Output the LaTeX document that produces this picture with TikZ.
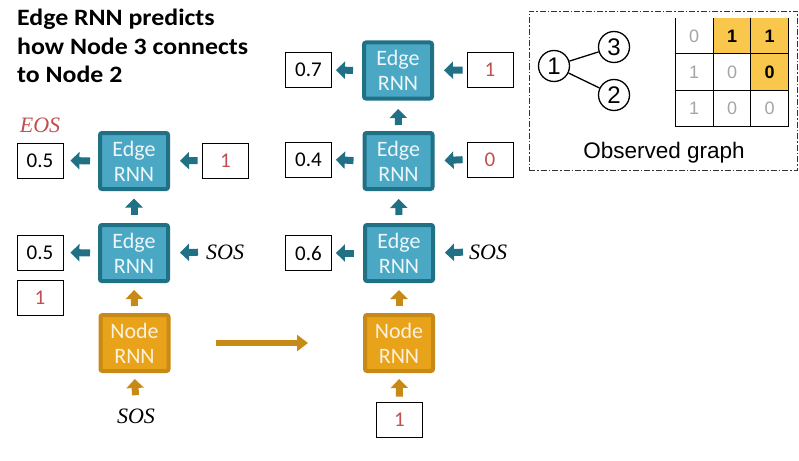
\documentclass[tikz,border=0pt]{standalone}
\usepackage{fontspec}
\setmainfont{Carlito}
\newfontfamily\titlefont{Carlito}[FakeStretch=1.1]
\newfontfamily\helv{Liberation Sans}
\newfontfamily\serit{Liberation Serif}
\usetikzlibrary{arrows.meta}
\definecolor{tealfill}{RGB}{75,168,196}
\definecolor{tealdark}{RGB}{32,112,134}
\definecolor{goldfill}{RGB}{233,163,26}
\definecolor{golddark}{RGB}{200,138,22}
\definecolor{redtxt}{RGB}{192,80,77}
\definecolor{cellhi}{RGB}{249,199,76}
\definecolor{greytxt}{RGB}{165,165,165}
\begin{document}
\begin{tikzpicture}[x=1pt,y=-1pt,
  edgebox/.style={draw=tealdark, fill=tealfill, line width=4pt, rounded corners=2pt,
    minimum width=68pt, minimum height=56pt, inner sep=0pt, align=center,
    text=white!90!tealfill, font=\fontsize{22}{25}\selectfont},
  nodebox/.style={edgebox, draw=golddark, fill=goldfill, text=white!85!goldfill},
  valbox/.style={draw=black, line width=0.8pt, minimum width=46pt, minimum height=35pt,
    inner sep=0pt, font=\fontsize{21}{22}\selectfont},
  redval/.style={valbox, text=redtxt},
  symtxt/.style={inner sep=0pt, font=\serit\itshape\fontsize{22}{24}\selectfont},
  titletxt/.style={inner sep=0pt, anchor=base west, font=\titlefont\bfseries\fontsize{23.5}{28}\selectfont},
  tarr/.style={draw=tealdark, line width=7pt, -{Triangle[length=9pt,width=17pt]}},
  garr/.style={tarr, draw=golddark},
  bigarr/.style={draw=golddark, line width=6pt, -{Triangle[length=11pt,width=16pt]}},
  gcirc/.style={circle, draw=black, line width=1.3pt, minimum size=31pt, inner sep=0pt,
    font=\helv\fontsize{24}{26}\selectfont},
  cell/.style={minimum width=37.5pt, minimum height=36pt, inner sep=0pt,
    font=\helv\fontsize{18}{20}\selectfont},
  greycell/.style={cell, text=greytxt},
  hicell/.style={cell, fill=cellhi, font=\helv\bfseries\fontsize{18}{20}\selectfont},
  panelbox/.style={draw=black!80, line width=0.9pt, dash pattern=on 6pt off 2pt on 1.5pt off 2pt,
    minimum width=268pt, minimum height=159pt, inner sep=0pt}
]
\useasboundingbox (0,0) rectangle (799,460);
\fill[white] (0,0) rectangle (799,460);

% title
\node[titletxt] (t1) at (17,26) {Edge RNN predicts};
\node[titletxt] (t2) at (17,54) {how Node 3 connects};
\node[titletxt] (t3) at (17,82) {to Node 2};

% ---- left column ----
\node[symtxt, text=redtxt] (eos) at (40,125) {EOS};
\node[valbox] (o1) at (40,160.5) {0.5};
\node[edgebox] (E1a) at (134,161) {Edge\\RNN};
\node[redval] (i1) at (225.5,160.5) {1};
\node[edgebox] (E1b) at (134,253) {Edge\\RNN};
\node[valbox] (o2) at (40,252.5) {0.5};
\node[redval] (r2) at (40,298) {1};
\node[symtxt, anchor=west] (sosA) at (206,252) {SOS};
\node[nodebox] (N1) at (134.5,343) {Node\\RNN};
\node[symtxt, anchor=base] (sosB) at (136,423) {SOS};

\draw[tarr, shorten <=8pt, shorten >=7pt] (E1a.west) -- (o1.east);
\draw[tarr, shorten <=4.5pt, shorten >=10pt] (i1.west) -- (E1a.east);
\draw[tarr, shorten <=8pt, shorten >=7pt] (E1b.west) -- (o2.east);
\draw[tarr, shorten <=8pt, shorten >=10pt] (sosA.west) -- (E1b.east);
\draw[tarr, shorten <=8.5pt, shorten >=7.5pt] (E1b.north) -- (E1a.south);
\draw[garr, shorten <=7pt, shorten >=7pt] (N1.north) -- (E1b.south);
\draw[garr, shorten <=13pt, shorten >=6pt] (sosB.north) -- (N1.south);

% ---- middle column ----
\node[edgebox] (Et) at (398,70.5) {Edge\\RNN};
\node[valbox] (o3) at (308.5,70) {0.7};
\node[redval] (i3) at (490,70) {1};
\node[edgebox] (Em) at (398.5,161) {Edge\\RNN};
\node[valbox] (o4) at (308.5,159.5) {0.4};
\node[redval] (i4) at (490,159.5) {0};
\node[edgebox] (El) at (399,253) {Edge\\RNN};
\node[valbox] (o5) at (308.5,253) {0.6};
\node[symtxt, anchor=west] (sosC) at (469,252) {SOS};
\node[nodebox] (N2) at (399,343) {Node\\RNN};
\node[redval] (i6) at (399.5,419.5) {1};

\draw[tarr, shorten <=9pt, shorten >=4pt] (Et.west) -- (o3.east);
\draw[tarr, shorten <=4pt, shorten >=10pt] (i3.west) -- (Et.east);
\draw[tarr, shorten <=9pt, shorten >=4pt] (Em.west) -- (o4.east);
\draw[tarr, shorten <=4pt, shorten >=10pt] (i4.west) -- (Em.east);
\draw[tarr, shorten <=9pt, shorten >=4pt] (El.west) -- (o5.east);
\draw[tarr, shorten <=6pt, shorten >=10pt] (sosC.west) -- (El.east);
\draw[tarr, shorten <=6pt, shorten >=8.5pt] (Em.north) -- (Et.south);
\draw[tarr, shorten <=8pt, shorten >=8pt] (El.north) -- (Em.south);
\draw[garr, shorten <=7pt, shorten >=7pt] (N2.north) -- (El.south);
\draw[garr, shorten <=5pt, shorten >=6pt] (i6.north) -- (N2.south);

% big transition arrow
\draw[bigarr, shorten <=45pt, shorten >=55pt] (N1.east) -- (N2.west);

% ---- observed graph panel ----
\node[panelbox] (panel) at (663,90.5) {};
\node[gcirc] (g1) at (554,66) {1};
\node[gcirc] (g3) at (614,47) {3};
\node[gcirc] (g2) at (614,95) {2};
\draw[line width=1.3pt] (g1) -- (g3);
\draw[line width=1.3pt] (g1) -- (g2);

\node[greycell] (c11) at (694,36) {0};
\node[hicell] (c12) at (732,36) {1};
\node[hicell] (c13) at (769.5,36) {1};
\node[greycell] (c21) at (694,72) {1};
\node[greycell] (c22) at (732,72) {0};
\node[hicell] (c23) at (769.5,72) {0};
\node[greycell] (c31) at (694,108.5) {1};
\node[greycell] (c32) at (732,108.5) {0};
\node[greycell] (c33) at (769.5,108.5) {0};
\draw[line width=1pt] (c11.north west) -- (c31.south west);
\draw[line width=1pt] (c12.north west) -- (c32.south west);
\draw[line width=1pt] (c13.north west) -- (c33.south west);
\draw[line width=1pt] (c13.north east) -- (c33.south east);
\draw[line width=1pt] (c21.north west) -- (c23.north east);
\draw[line width=1pt] (c31.north west) -- (c33.north east);
\draw[line width=1pt] (c31.south west) -- (c33.south east);
\node[inner sep=0pt, font=\helv\fontsize{22.5}{26}\selectfont] (obs) at (664,153) {Observed graph};
\end{tikzpicture}
\end{document}
